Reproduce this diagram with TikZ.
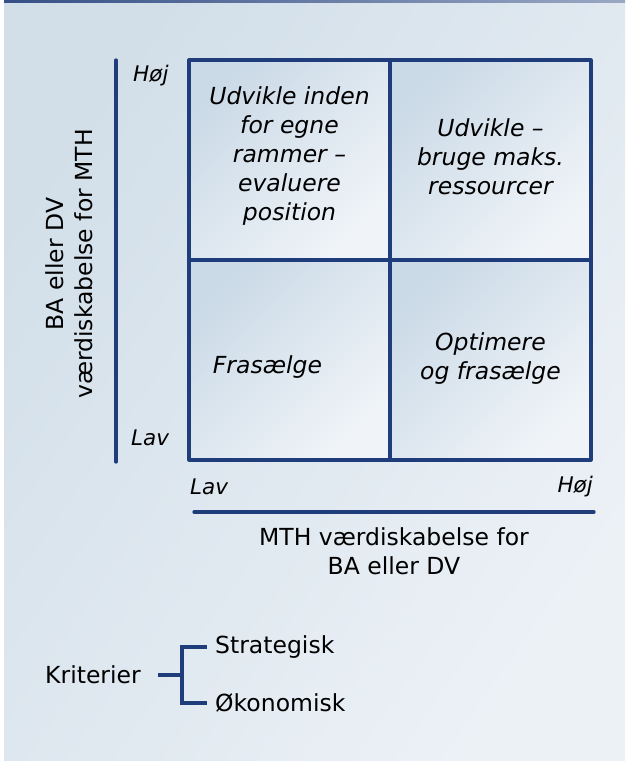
\documentclass[tikz,border=0pt]{standalone}
\usepackage{fontspec}
\setmainfont{DejaVu Sans}
\usetikzlibrary{calc}

\definecolor{navy}{RGB}{31,61,122}
\definecolor{bgdark}{RGB}{210,223,233}
\definecolor{bglight}{RGB}{236,241,246}
\definecolor{celldark}{RGB}{203,218,231}
\definecolor{celllight}{RGB}{240,244,248}

\begin{document}
\begin{tikzpicture}[x=1pt, y=-1pt, line cap = round, line join = round]
\tikzstyle{cell}=[draw=navy, line width=3.2pt, minimum width=201pt, minimum height=200pt, inner sep=0pt, left color=celldark, right color=celllight, shading angle=45]
\tikzstyle{celltext}=[align=center, font=\fontsize{23.5}{29}\selectfont\itshape]
\tikzstyle{tick}=[font=\fontsize{21.5}{24}\selectfont\itshape, inner sep=0pt]
\tikzstyle{axis}=[draw=navy, line width=3.2pt]
\tikzstyle{plain}=[font=\fontsize{23.5}{29}\selectfont, align=center, inner sep=0pt]

% page and panel
\useasboundingbox (0,0) rectangle (625,763);
\fill[white] (0,0) rectangle (625,763);
\shade[left color=bgdark, right color=bglight, shading angle=55] (4,0) rectangle (625,760);
\shade[left color=navy!90, right color=navy!45] (4,0) rectangle (625,2.5);

% the four cells
\node[cell] (tl) at (289.5,160) {};
\node[cell] (tr) at (490.5,160) {};
\node[cell] (bl) at (289.5,360) {};
\node[cell] (br) at (490.5,360) {};

\node[celltext] (tltext) at ($(tl.center)+(0,-4)$) {Udvikle inden\\for egne\\rammer –\\evaluere\\position};
\node[celltext] (trtext) at ($(tr.center)+(0,-3)$) {Udvikle –\\bruge maks.\\ressourcer};
\node[celltext] (bltext) at ($(bl.center)+(-22,7)$) {Frasælge};
\node[celltext] (brtext) at ($(br.center)+(0,-1)$) {Optimere\\og frasælge};

% axes
\coordinate (ytop) at (116,60);
\coordinate (ybot) at (116,462);
\draw[axis] (ytop) -- (ybot);
\coordinate (xleft) at (194,512);
\coordinate (xright) at (594,512);
\draw[axis] (xleft) -- (xright);

\node[tick, anchor=north west] (yhigh) at (133,65) {Høj};
\node[tick, anchor=west] (ylow) at (131,438) {Lav};
\node[tick, anchor=west] (xlow) at (190,487) {Lav};
\node[tick, anchor=east] (xhigh) at (593,487) {Høj};

\node[plain, anchor=north] (xlabel) at (394,527) {MTH værdiskabelse for\\BA eller DV};
\node[plain, rotate=90] (ylabel) at (69,264) {BA eller DV\\værdiskabelse for MTH};

% criteria
\node[plain, anchor=west] (krit) at (45,675) {Kriterier};
\node[plain, anchor=west] (strat) at (215,647) {Strategisk};
\node[plain, anchor=west] (oek) at (215,703) {Økonomisk};
\coordinate (fork) at (182,675);
\coordinate (ftop) at (182,647);
\coordinate (fbot) at (182,703);
\draw[axis, line cap=butt] (158,675) -- (fork);
\draw[axis, line cap=butt, line join=miter] ($(strat.west)+(-8,0)$) -- (ftop) -- (fbot) -- ($(oek.west)+(-8,0)$);
\end{tikzpicture}
\end{document}
